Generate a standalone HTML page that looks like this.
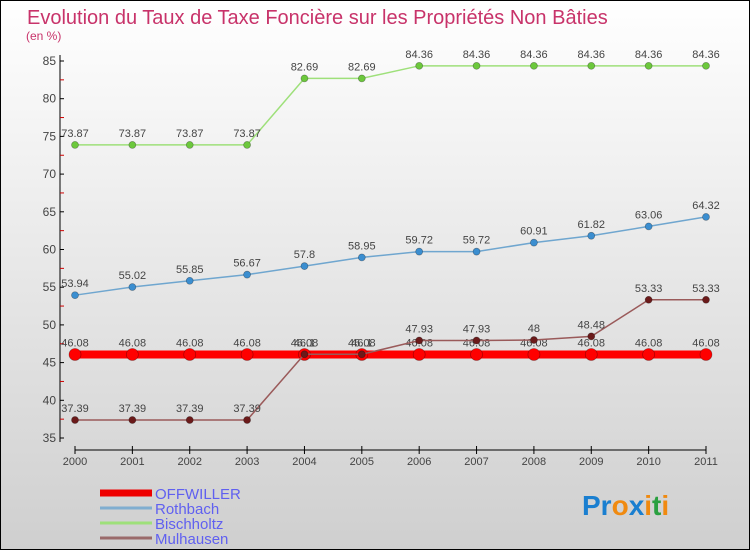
<!DOCTYPE html>
<html><head><meta charset="utf-8"><style>
html,body{margin:0;padding:0}
body{width:750px;height:550px;overflow:hidden;font-family:"Liberation Sans",sans-serif}
</style></head><body>
<svg id="c" width="750" height="550" xmlns="http://www.w3.org/2000/svg">
<defs><linearGradient id="bg" x1="0" y1="0" x2="0" y2="1"><stop offset="0" stop-color="#ffffff"/><stop offset="1" stop-color="#cfcfcf"/></linearGradient></defs>
<rect x="0.5" y="0.5" width="749" height="549" fill="url(#bg)" stroke="#000"/>
<text x="27" y="24" font-size="20" fill="#c8336a">Evolution du Taux de Taxe Foncière sur les Propriétés Non Bâties</text>
<text x="26" y="40" font-size="12" fill="#c8336a">(en %)</text>
<g id="axes"></g><g id="series"></g><g id="legend"></g>
<text x="582" y="515" font-size="28" font-weight="bold"><tspan fill="#1a7fd0">Pr</tspan><tspan fill="#f08a10">o</tspan><tspan fill="#1a7fd0">x</tspan><tspan fill="#f08a10">i</tspan><tspan fill="#2aa040">t</tspan><tspan fill="#f08a10">i</tspan></text>
</svg>
<script>
const years=[2000,2001,2002,2003,2004,2005,2006,2007,2008,2009,2010,2011];
const offwiller=[46.08,46.08,46.08,46.08,46.08,46.08,46.08,46.08,46.08,46.08,46.08,46.08];
const rothbach=[53.94,55.02,55.85,56.67,57.8,58.95,59.72,59.72,60.91,61.82,63.06,64.32];
const bischholtz=[73.87,73.87,73.87,73.87,82.69,82.69,84.36,84.36,84.36,84.36,84.36,84.36];
const mulhausen=[37.39,37.39,37.39,37.39,46.1,46.1,47.93,47.93,48,48.48,53.33,53.33];
const yTicks=[35,40,45,50,55,60,65,70,75,80,85];
const NS='http://www.w3.org/2000/svg';
const X=i=>75+i*(706-75)/(years.length-1);
const Y=v=>438-(v-35)*(438-61)/50;
function mk(p,t,a){const e=document.createElementNS(NS,t);for(const k in a)e.setAttribute(k,a[k]);p.appendChild(e);return e;}
const ax=document.getElementById('axes');
let l=mk(ax,'line',{x1:60,y1:55,x2:60,y2:442,stroke:'#000'});


l=mk(ax,'line',{x1:75,y1:450,x2:706,y2:450,stroke:'#000'});


yTicks.forEach(v=>{
 mk(ax,'line',{x1:60,y1:Y(v),x2:64,y2:Y(v),stroke:'#000'});
 if(v<85) mk(ax,'line',{x1:60,y1:Y(v+2.5),x2:64,y2:Y(v+2.5),stroke:'#c00'});
 const t=mk(ax,'text',{x:56,y:Y(v)+4,'font-size':12,fill:'#444','text-anchor':'end'});t.textContent=v;
 
 
});
years.forEach((y,i)=>{
 mk(ax,'line',{x1:X(i),y1:446,x2:X(i),y2:454,stroke:'#000'});
 const t=mk(ax,'text',{x:X(i),y:465,'font-size':11,fill:'#444','text-anchor':'middle'});t.textContent=y;
 
 
});
const sg=document.getElementById('series');
function series(name,vals,line,dot,w,r){
 const g=mk(sg,'g',{});
 
 
 mk(g,'polyline',{points:vals.map((v,i)=>X(i)+','+Y(v)).join(' '),fill:'none',stroke:line,'stroke-width':w});
 vals.forEach((v,i)=>{
  const c=mk(g,'circle',{cx:X(i),cy:Y(v),r:r,fill:dot,stroke:'rgba(0,0,0,0.35)','stroke-width':0.7});
  
  
  const t=mk(g,'text',{x:X(i),y:Y(v)-8,'font-size':11,fill:'#444','text-anchor':'middle'});t.textContent=v;
  
  
 });
}
series('offwiller',offwiller,'#ff0000','#ff0000',8,6);
series('rothbach',rothbach,'#6fa6cf','#3b8ed0',1.5,3.5);
series('bischholtz',bischholtz,'#9ee07a','#6cc83c',1.5,3.5);
series('mulhausen',mulhausen,'#9a5a5a','#6b1a1a',1.5,3.5);
const lg=document.getElementById('legend');
[['OFFWILLER','#ee0000',7],['Rothbach','#80aed0',3],['Bischholtz','#9ee07a',3],['Mulhausen','#9a6a6a',3]].forEach((d,i)=>{
 const y=493+i*15;
 const g=mk(lg,'g',{});
 
 
 mk(g,'line',{x1:100,y1:y,x2:152,y2:y,stroke:d[1],'stroke-width':d[2]});
 const t=mk(g,'text',{x:155,y:y+6,'font-size':15,fill:'#6060f0'});t.textContent=d[0];
});
</script>
</body></html>
